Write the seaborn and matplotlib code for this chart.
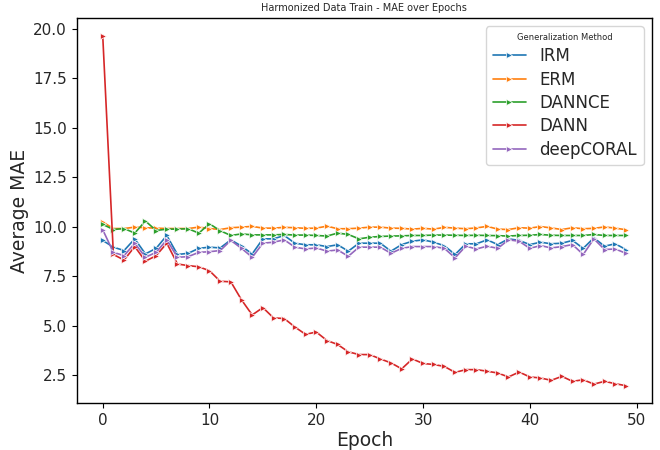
import numpy as np
import pandas as pd
import matplotlib
matplotlib.use("Agg")
import matplotlib.pyplot as plt
import seaborn as sns

epochs = list(range(50))
methods = ["IRM", "ERM", "DANNCE", "DANN", "deepCORAL"]

irm = [9.31, 8.97, 8.80, 9.39, 8.63, 8.91, 9.56, 8.60, 8.66, 8.91,
       8.97, 8.93, 9.34, 9.02, 8.63, 9.39, 9.39, 9.56, 9.17, 9.09,
       9.09, 9.00, 9.09, 8.77, 9.17, 9.17, 9.17, 8.77, 9.10, 9.27,
       9.34, 9.22, 9.04, 8.60, 9.14, 9.14, 9.34, 9.10, 9.39, 9.31,
       9.10, 9.22, 9.14, 9.17, 9.31, 8.91, 9.44, 9.02, 9.14, 8.85]
erm = [10.24, 9.91, 9.91, 9.98, 9.95, 9.93, 9.91, 9.91, 9.91, 9.98,
       9.91, 9.86, 9.95, 9.98, 10.02, 9.93, 9.93, 9.97, 9.95, 9.92,
       9.93, 10.03, 9.90, 9.90, 9.93, 9.98, 9.98, 9.93, 9.92, 9.88,
       9.92, 9.88, 9.97, 9.93, 9.90, 9.94, 10.02, 9.88, 9.86, 9.95,
       9.93, 10.01, 9.94, 9.86, 9.95, 9.90, 9.92, 9.99, 9.93, 9.85]
dannce = [10.12, 9.86, 9.91, 9.68, 10.29, 9.81, 9.88, 9.88, 9.90, 9.68,
          10.15, 9.80, 9.56, 9.64, 9.59, 9.59, 9.59, 9.61, 9.58, 9.58,
          9.56, 9.53, 9.68, 9.61, 9.39, 9.47, 9.51, 9.53, 9.54, 9.56,
          9.56, 9.58, 9.58, 9.57, 9.56, 9.57, 9.56, 9.55, 9.53, 9.56,
          9.57, 9.61, 9.57, 9.56, 9.56, 9.56, 9.61, 9.56, 9.56, 9.56]
dann = [19.65, 8.60, 8.32, 9.00, 8.26, 8.54, 9.17, 8.12, 8.04, 7.98,
        7.78, 7.25, 7.22, 6.31, 5.55, 5.92, 5.40, 5.37, 4.94, 4.57,
        4.69, 4.26, 4.06, 3.69, 3.55, 3.55, 3.33, 3.13, 2.83, 3.33,
        3.10, 3.05, 2.95, 2.65, 2.79, 2.79, 2.71, 2.62, 2.42, 2.67,
        2.42, 2.37, 2.25, 2.45, 2.20, 2.28, 2.06, 2.20, 2.08, 1.98]
deepcoral = [9.85, 8.71, 8.54, 9.17, 8.46, 8.71, 9.34, 8.46, 8.49, 8.71,
             8.74, 8.80, 9.31, 8.91, 8.46, 9.17, 9.22, 9.34, 8.97, 8.88,
             8.93, 8.77, 8.83, 8.51, 8.97, 8.97, 8.97, 8.66, 8.91, 9.00,
             9.00, 9.00, 8.91, 8.43, 9.02, 8.88, 9.02, 8.91, 9.34, 9.27,
             8.91, 9.05, 8.93, 9.00, 9.10, 8.60, 9.39, 8.85, 8.88, 8.66]

series = [irm, erm, dannce, dann, deepcoral]
df = pd.concat([
    pd.DataFrame({"Epoch": epochs, "Average MAE": vals, "Generalization Method": m})
    for m, vals in zip(methods, series)
], ignore_index=True)

sns.set_style("ticks")
plt.rcParams["font.family"] = ["DejaVu Sans"]

fig = plt.figure(figsize=(6.6, 4.5), dpi=100)
ax = fig.add_axes([0.116, 0.104, 0.872, 0.856])

palette = sns.color_palette("tab10", 5)
sns.lineplot(data=df, x="Epoch", y="Average MAE", hue="Generalization Method",
             hue_order=methods, palette=palette, marker=">", markersize=4.2,
             markeredgecolor="white", markeredgewidth=0.5, linewidth=1.2, ax=ax)

ax.set_title("Harmonized Data Train - MAE over Epochs", fontsize=7, pad=5)
ax.set_xlabel("Epoch", fontsize=13.5, labelpad=2)
ax.set_ylabel("Average MAE", fontsize=13.5, labelpad=3)
ax.tick_params(labelsize=11, length=3.5, width=0.8, color="black")
ax.set_yticks([2.5, 5.0, 7.5, 10.0, 12.5, 15.0, 17.5, 20.0])
for s in ax.spines.values():
    s.set_visible(True)
    s.set_color("black")
    s.set_linewidth(1.0)

leg = ax.legend(title="Generalization Method", fontsize=12, title_fontsize=6,
                loc="upper right", frameon=True, handlelength=2.0,
                labelspacing=0.32, borderaxespad=0.5)

fig.savefig("out.png", dpi=100)
